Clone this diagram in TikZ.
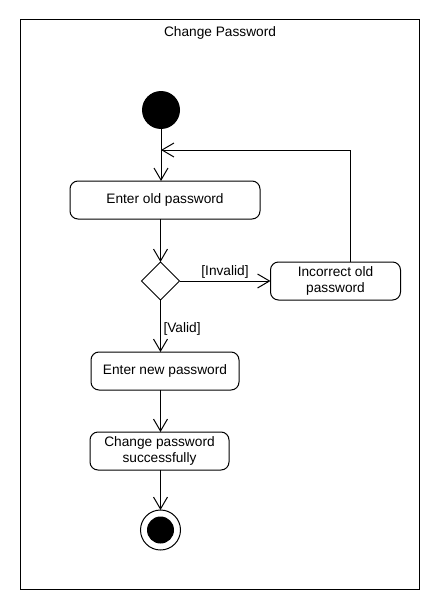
\documentclass[tikz,border=0pt]{standalone}
\usepackage{fontspec}
\setmainfont{Liberation Sans}
\usetikzlibrary{positioning,shapes.geometric}
\usetikzlibrary{arrows.meta}
\usepackage{xcolor}

\begin{document}
\begin{tikzpicture}
[x=1pt, y=-1pt, line width=1pt,
font=\fontsize{13.7}{16}\selectfont,
every node/.style={outer sep=0pt},
% The action style is used to draw the activity boxes
action/.style={rectangle, draw, rounded corners=8pt, minimum height=38pt, align=center, inner sep=2pt},
% The decision style is used to draw the branch diamond
decision/.style={diamond, draw, aspect=1, minimum width=38pt, minimum height=38pt, inner sep=0pt},
flow/.style={-{Straight Barb[length=12pt, width=14pt]}},
guard/.style={inner sep=3pt}
]
% Frame and title
\useasboundingbox (0,0) rectangle (440,610);
\draw (20,20) rectangle (419,589);
\node [inner sep=0pt] (title) at (220,33) {Change Password};

% Draw nodes
\node [circle, fill=black, minimum size=38pt, inner sep=0pt] (init) at (161,110) {};
\node [action, minimum width=190pt, below=52pt of init, xshift=4pt] (eold) {Enter old password};
\node [decision, below=43pt of eold, xshift=-4.5pt] (dec) {};
\node [action, minimum width=130pt, right=91pt of dec] (inc) {Incorrect old\\password};
\node [action, minimum width=148pt, below=52pt of dec, xshift=4.5pt] (enew) {Enter new password};
\node [action, minimum width=139pt, below=42pt of enew, xshift=-5.5pt] (chg) {Change password\\successfully};
\node [circle, draw, fill=white, minimum size=40pt, inner sep=0pt, below=40pt of chg, xshift=1pt] (fin) {};
\node [circle, fill=black, minimum size=27pt, inner sep=0pt] (finin) at (fin) {};
\coordinate [below=21pt of init] (back);

% Draw flows
\draw[flow](init)--(eold.north -| init);
\draw[flow](eold.south -| dec)--(dec);
\draw[flow](dec)--(inc)node[guard, above, midway]{[Invalid]};
\draw[flow](dec)--(enew.north -| dec)node[guard, right, pos=0.55]{[Valid]};
\draw[flow](enew.south -| dec)--(chg.north -| dec);
\draw[flow](chg.south -| dec)--(fin);
\draw[flow]([xshift=15pt]inc.north) |- (back);
\end{tikzpicture}
\end{document}
